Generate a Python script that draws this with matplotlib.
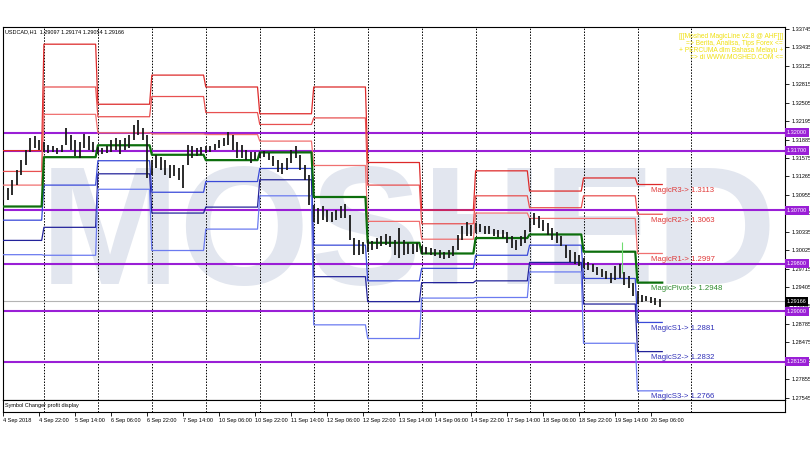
import matplotlib.pyplot as plt

symbol_info = 'USDCAD,H1  1.29097 1.29174 1.29054 1.29166'
last_price = 1.29166

# one drawn bar every 2 hours, bar index counted in H1 bars from 4 Sep 06:00
bar_high = [1.3104, 1.3107, 1.3121, 1.3137, 1.3154, 1.3171, 1.3191, 1.3194, 1.3188, 1.3184,
            1.3179, 1.3177, 1.3174, 1.3179, 1.3208, 1.3196, 1.3188, 1.3184, 1.3198, 1.3194,
            1.3184, 1.3176, 1.3174, 1.3177, 1.3188, 1.3191, 1.3188, 1.3191, 1.3196, 1.3213,
            1.3222, 1.3208, 1.3196, 1.3154, 1.3162, 1.3159, 1.3154, 1.3146, 1.3146, 1.3141,
            1.3146, 1.3179, 1.3177, 1.3174, 1.3176, 1.3177, 1.3177, 1.3181, 1.3188, 1.3191,
            1.3201, 1.3196, 1.3184, 1.3179, 1.3171, 1.3167, 1.3167, 1.3167, 1.3169, 1.3166,
            1.3161, 1.3154, 1.3150, 1.3157, 1.3171, 1.3177, 1.3162, 1.3146, 1.3129, 1.3079,
            1.3073, 1.3077, 1.3070, 1.3067, 1.3070, 1.3077, 1.3080, 1.3062, 1.3023, 1.3020,
            1.3016, 1.3020, 1.3018, 1.3023, 1.3026, 1.3030, 1.3026, 1.3020, 1.3040, 1.3020,
            1.3015, 1.3013, 1.3015, 1.3010, 1.3008, 1.3006, 1.3005, 1.3003, 1.2999, 1.3003,
            1.3010, 1.3028, 1.3043, 1.3050, 1.3045, 1.3048, 1.3047, 1.3043, 1.3043, 1.3038,
            1.3036, 1.3036, 1.3033, 1.3026, 1.3020, 1.3026, 1.3036, 1.3057, 1.3065, 1.3060,
            1.3053, 1.3048, 1.3040, 1.3033, 1.3026, 1.3011, 1.3003, 1.2999, 1.2994, 1.2989,
            1.2983, 1.2979, 1.2974, 1.2971, 1.2968, 1.2964, 1.2976, 1.2979, 1.2966, 1.2959,
            1.2947, 1.2934, 1.2927, 1.2925, 1.2924, 1.2922, 1.2920]
bar_low = [1.3087, 1.3087, 1.3095, 1.3112, 1.3129, 1.3146, 1.3167, 1.3174, 1.3171, 1.3167,
           1.3166, 1.3167, 1.3164, 1.3167, 1.3179, 1.3171, 1.3161, 1.3157, 1.3174, 1.3171,
           1.3167, 1.3164, 1.3164, 1.3166, 1.3167, 1.3171, 1.3164, 1.3171, 1.3174, 1.3188,
           1.3196, 1.3188, 1.3124, 1.3129, 1.3140, 1.3137, 1.3129, 1.3124, 1.3127, 1.3121,
           1.3107, 1.3146, 1.3157, 1.3161, 1.3162, 1.3166, 1.3167, 1.3171, 1.3174, 1.3177,
           1.3179, 1.3171, 1.3157, 1.3157, 1.3154, 1.3150, 1.3154, 1.3157, 1.3159, 1.3154,
           1.3144, 1.3134, 1.3130, 1.3137, 1.3150, 1.3157, 1.3137, 1.3121, 1.3079, 1.3050,
           1.3047, 1.3053, 1.3050, 1.3050, 1.3053, 1.3057, 1.3057, 1.3020, 1.2995, 1.2995,
           1.2996, 1.2999, 1.3003, 1.3005, 1.3010, 1.3011, 1.3008, 1.2995, 1.2989, 1.2995,
           1.2996, 1.2996, 1.2999, 1.2996, 1.2996, 1.2995, 1.2993, 1.2989, 1.2988, 1.2989,
           1.2993, 1.3003, 1.3020, 1.3026, 1.3026, 1.3031, 1.3033, 1.3030, 1.3030, 1.3026,
           1.3025, 1.3023, 1.3015, 1.3006, 1.3003, 1.3010, 1.3015, 1.3033, 1.3045, 1.3040,
           1.3035, 1.3028, 1.3020, 1.3015, 1.3010, 1.2989, 1.2983, 1.2979, 1.2976, 1.2973,
           1.2969, 1.2966, 1.2961, 1.2957, 1.2954, 1.2947, 1.2952, 1.2956, 1.2944, 1.2939,
           1.2925, 1.2912, 1.2915, 1.2917, 1.2914, 1.2910, 1.2907]

# daily pivot levels (4,5,6,7,10,11,12,13,14,17,18,19,20 Sep)
day_start = [0, 18, 42, 66, 90, 114, 138, 162, 186, 210, 234, 258, 282]
last_bar = 293
r3 = [1.3170, 1.3349, 1.3248, 1.3297, 1.3277, 1.3232, 1.3277, 1.3150, 1.3070, 1.3136, 1.3102, 1.3124, 1.3113]
r2 = [1.3135, 1.3277, 1.3227, 1.3261, 1.3234, 1.3214, 1.3225, 1.3112, 1.3047, 1.3094, 1.3074, 1.3094, 1.3063]
r1 = [1.3112, 1.3231, 1.3200, 1.3198, 1.3197, 1.3186, 1.3145, 1.3051, 1.3021, 1.3065, 1.3056, 1.3056, 1.2997]
pivot = [1.3076, 1.3159, 1.3179, 1.3163, 1.3154, 1.3167, 1.3092, 1.3015, 1.2997, 1.3023, 1.3029, 1.3000, 1.2948]
s1 = [1.3053, 1.3112, 1.3153, 1.3100, 1.3118, 1.3140, 1.3011, 1.2951, 1.2972, 1.2994, 1.3011, 1.2955, 1.2881]
s2 = [1.3019, 1.3041, 1.3131, 1.3065, 1.3075, 1.3121, 1.2958, 1.2916, 1.2948, 1.2951, 1.2982, 1.2912, 1.2832]
s3 = [1.2995, 1.2994, 1.3105, 1.3002, 1.3038, 1.3094, 1.2877, 1.2854, 1.2922, 1.2923, 1.2966, 1.2846, 1.2766]

round_levels = [1.3200, 1.3170, 1.3070, 1.2980, 1.2900, 1.2815]
spike = (275, 1.2965, 1.3016)

price_ticks = [1.33745, 1.33435, 1.33125, 1.32815, 1.32505, 1.32195, 1.31885, 1.31575,
               1.31265, 1.30955, 1.30645, 1.30335, 1.30025, 1.29715, 1.29405, 1.29095,
               1.28785, 1.28475, 1.28165, 1.27855, 1.27545]
time_labels = ['4 Sep 2018', '4 Sep 22:00', '5 Sep 14:00', '6 Sep 06:00', '6 Sep 22:00',
               '7 Sep 14:00', '10 Sep 06:00', '10 Sep 22:00', '11 Sep 14:00', '12 Sep 06:00',
               '12 Sep 22:00', '13 Sep 14:00', '14 Sep 06:00', '14 Sep 22:00', '17 Sep 14:00',
               '18 Sep 06:00', '18 Sep 22:00', '19 Sep 14:00', '20 Sep 06:00']
banner = ['[[[Moshed MagicLine v2.8 @ AHF]]]', '=> Berita, Analisa, Tips Forex <=',
          '+ PERCUMA dlm Bahasa Melayu +', '=> di WWW.MOSHED.COM <=']

purple = '#9a1fd6'
font = 'Liberation Sans'

fig = plt.figure(figsize=(8.1, 4.5), dpi=100)
ax = fig.add_axes([3 / 810, 1 - 400 / 450, 782 / 810, 373 / 450])
sub = fig.add_axes([3 / 810, 1 - 412 / 450, 782 / 810, 12 / 450])
xlim = (-0.2, 347.6)
ax.set_xlim(*xlim)
sub.set_xlim(*xlim)
ax.set_ylim(1.27506, 1.33779)

ax.text(0.518, 0.31, 'MOSHED', transform=ax.transAxes, ha='center', va='baseline',
        fontsize=121, fontweight='bold', family=font, color='#e2e6ef', zorder=0)

seps = day_start[1:] + [306]
for a in (ax, sub):
    for s in seps:
        a.axvline(s, color='black', ls=(0, (1.5, 1.5)), lw=0.7, zorder=1)

for v in round_levels:
    ax.axhline(v, color=purple, lw=1.5, zorder=2)
ax.axhline(last_price, color='#b4b4b4', lw=0.8, zorder=2)


def step_xy(levels):
    xs, ys = [], []
    ends = day_start[1:] + [last_bar + 1]
    for s, e, v in zip(day_start, ends, levels):
        xs += [s, e - 1]
        ys += [v, v]
    return xs, ys


styles = [(r3, '#dd2a2a', 0.9), (r2, '#e85050', 0.9), (r1, '#f07070', 0.9),
          (s1, '#3a4ad8', 0.9), (s2, '#23239a', 0.9), (s3, '#6b7bf0', 0.9),
          (pivot, '#0c6e0c', 1.6)]
for lv, c, w in styles:
    xs, ys = step_xy(lv)
    ax.plot(xs, ys, color=c, lw=w, zorder=3)

bar_idx = [2 * k for k in range(len(bar_high))]
ax.vlines(bar_idx, bar_low, bar_high, color='#1a1a1a', lw=1.3, zorder=4)
ax.vlines(spike[0], spike[1], spike[2], color='#6fdc6f', lw=0.8, zorder=4)

names = ['MagicR3', 'MagicR2', 'MagicR1', 'MagicPivot', 'MagicS1', 'MagicS2', 'MagicS3']
cols = ['#e03838', '#e03838', '#e03838', '#2e8b2e', '#3030b8', '#3030b8', '#3030b8']
for n, lv, c in zip(names, [r3, r2, r1, pivot, s1, s2, s3], cols):
    ax.annotate(f'{n}-> {lv[-1]:.4f}', (288, lv[-1]), xytext=(0, -4.2),
                textcoords='offset points', va='center', ha='left',
                fontsize=5.6, family=font, color=c, zorder=6)

ax.text(0.003, 0.993, symbol_info, transform=ax.transAxes, fontsize=4, family=font,
        va='top', ha='left', zorder=6)
for j, line in enumerate(banner):
    ax.text(0.9975, 0.975 - j * 0.0188, line, transform=ax.transAxes, fontsize=4.8,
            family=font, color='#f0e010', ha='right', va='center', zorder=6)

ax.yaxis.tick_right()
ax.set_yticks(price_ticks)
ax.set_yticklabels([f'{v:.5f}' for v in price_ticks])
ax.tick_params(axis='y', labelsize=4, length=3, width=0.6, pad=1.5)
ax.set_xticks([])
for lbl in ax.get_yticklabels():
    lbl.set_family(font)

ytr = ax.get_yaxis_transform()
for v in round_levels:
    ax.text(1.002, v, f'{v:.5f}', transform=ytr, fontsize=4, family=font, color='white',
            va='center', ha='left', clip_on=False, zorder=7,
            bbox=dict(boxstyle='square,pad=0.35', fc=purple, ec='none'))
ax.text(1.002, last_price, f'{last_price:.5f}', transform=ytr, fontsize=4, family=font,
        color='white', va='center', ha='left', clip_on=False, zorder=7,
        bbox=dict(boxstyle='square,pad=0.35', fc='black', ec='none'))

sub.set_yticks([])
sub.set_xticks(range(0, 16 * len(time_labels), 16))
sub.set_xticklabels(time_labels, ha='left', fontsize=4, family=font)
sub.tick_params(axis='x', length=3, width=0.6, pad=1.5)
sub.text(0.003, 0.5, 'Symbol Changer profit display', transform=sub.transAxes,
         fontsize=4, family=font, va='center', ha='left')

for a in (ax, sub):
    for sp in a.spines.values():
        sp.set_linewidth(0.8)

fig.savefig('out.png', dpi=100, facecolor='white')
